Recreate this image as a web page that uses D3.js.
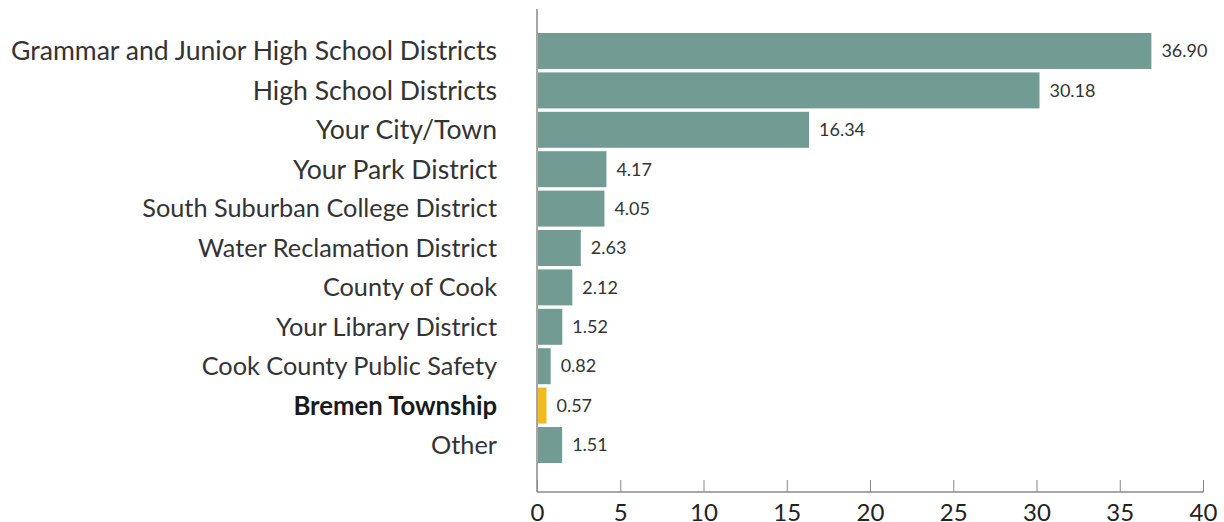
<!DOCTYPE html>
<html><head><meta charset="utf-8">
<script src="https://cdn.jsdelivr.net/npm/d3@7"></script>
<style>body{margin:0;background:#fff}svg{display:block}text{font-family:Lato,"Open Sans",sans-serif}</style>
</head><body><svg id="c" width="1224" height="522"></svg>
<script>
const categories = ["Grammar and Junior High School Districts","High School Districts","Your City/Town","Your Park District","South Suburban College District","Water Reclamation District","County of Cook","Your Library District","Cook County Public Safety","Bremen Township","Other"];
const values = [36.90,30.18,16.34,4.17,4.05,2.63,2.12,1.52,0.82,0.57,1.51];
const highlight = "Bremen Township";
const xTicks = [0,5,10,15,20,25,30,35,40];

const svg = d3.select("#c");
const x = d3.scaleLinear().domain([0,40]).range([537,1203]);
const y = d3.scaleBand().domain(categories).range([29.6,466.4]).paddingInner(0.0863).paddingOuter(0.0863);
const teal = "#729c93", gold = "#f0bb1e";

svg.selectAll("rect.bar").data(categories).enter().append("rect")
  .attr("x", x(0)+1).attr("y", d=>y(d))
  .attr("width", (d,i)=>x(values[i])-x(0)-1).attr("height", y.bandwidth())
  .attr("fill", d=>d===highlight?gold:teal);

svg.selectAll("text.val").data(categories).enter().append("text")
  .attr("x", (d,i)=>x(values[i])+10).attr("y", d=>y(d)+y.bandwidth()/2)
  .attr("dy","0.35em").attr("font-size",18).attr("fill","#333")
  .text((d,i)=>values[i].toFixed(2));

svg.selectAll("text.cat").data(categories).enter().append("text")
  .attr("x", 497).attr("y", d=>y(d)+y.bandwidth()/2)
  .attr("dy","0.35em").attr("text-anchor","end")
  .attr("font-size", (d,i)=> i<4 ? 26.6 : (d===highlight ? 25.7 : 25.3))
  .attr("font-weight", d=>d===highlight?700:400)
  .attr("fill", d=>d===highlight?"#1a1a1a":"#333")
  .text(d=>d);

// y axis line
svg.append("line").attr("x1",537).attr("x2",537).attr("y1",9).attr("y2",492)
  .attr("stroke","#a6a6a6").attr("stroke-width",2);

const xAxis = d3.axisBottom(x).tickValues(xTicks).tickSize(-12).tickPadding(12).tickFormat(d3.format("d"));
const g = svg.append("g").attr("transform","translate(0,492)").call(xAxis);
g.select(".domain").attr("stroke","#888").attr("stroke-width",1.5).attr("d","M537,0H1203.5");
g.selectAll(".tick line").attr("stroke","#888");
g.selectAll(".tick text").attr("font-size",24).attr("fill","#222").attr("dy","0.71em")
  .style("font-family","Lato,sans-serif");
</script></body></html>
